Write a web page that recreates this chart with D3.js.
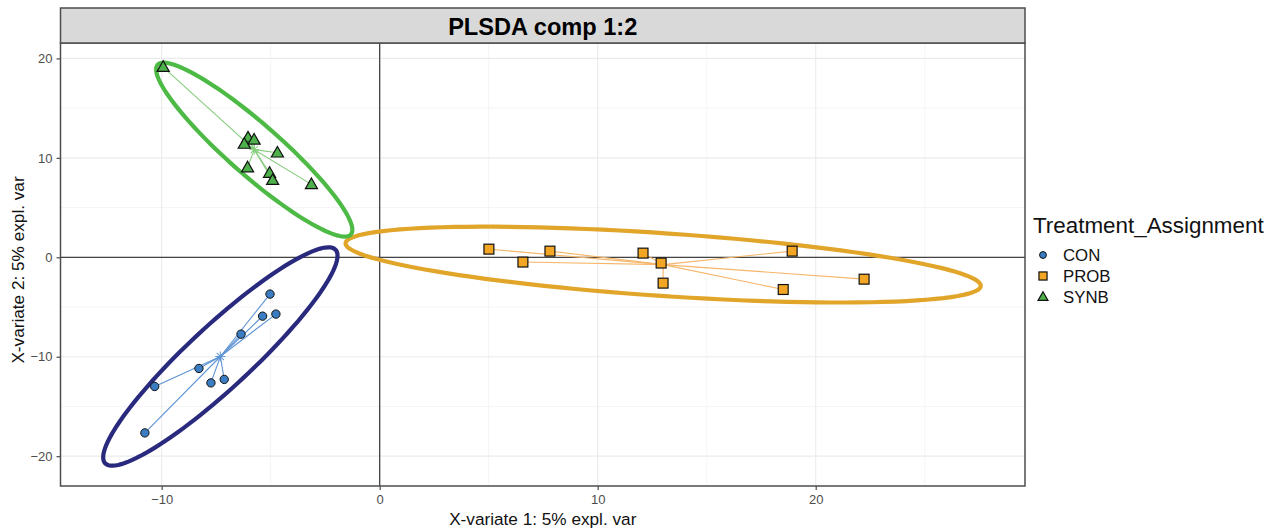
<!DOCTYPE html>
<html>
<head>
<meta charset="utf-8">
<script src="https://cdn.jsdelivr.net/npm/d3@7"></script>
<style>
  body { margin: 0; background: #fff; }
  text { font-family: "Liberation Sans", Arial, sans-serif; }
</style>
</head>
<body>
<script>
// groups and sample scores (comp 1, comp 2)
const groups = ["CON", "PROB", "SYNB"];
const conX  = [-5.03, -5.37, -4.76, -6.36, -8.29, -10.32, -7.74, -7.13, -10.77];
const conY  = [-3.70, -5.92, -5.71, -7.73, -11.18, -12.99, -12.63, -12.28, -17.66];
const probX = [5.01, 6.57, 7.81, 12.08, 12.91, 13.00, 18.51, 18.92, 22.22];
const probY = [0.82, -0.48, 0.62, 0.42, -0.58, -2.60, -3.24, 0.62, -2.20];
const synbX = [-9.93, -6.04, -5.76, -6.21, -4.69, -6.06, -5.05, -4.91, -3.13];
const synbY = [19.12, 12.02, 11.81, 11.39, 10.51, 9.02, 8.47, 7.75, 7.33];
const xTicks = [-10, 0, 10, 20];
const yTicks = [-20, -10, 0, 10, 20];
const xMinor = [-5, 5, 15, 25];
const yMinor = [-15, -5, 5, 15];

const width = 1278, height = 531;
const pLeft = 60.5, pRight = 1025, pTop = 43, pBottom = 486;

const x = d3.scaleLinear().domain([-14.64, 29.6]).range([pLeft, pRight]);
const y = d3.scaleLinear().domain([-23.0, 21.55]).range([pBottom, pTop]);

// per group style
const style = {
  CON:  {fill: "#3A7DC2", ell: "#29297E", line: "#5E93D3", shape: "circle"},
  PROB: {fill: "#F2A623", ell: "#E1A52A", line: "#F6B66A", shape: "square"},
  SYNB: {fill: "#4DB04A", ell: "#4DBA45", line: "#86CC7D", shape: "triangle"}
};

const series = [
  {g: "CON",  xs: conX,  ys: conY},
  {g: "PROB", xs: probX, ys: probY},
  {g: "SYNB", xs: synbX, ys: synbY}
];

const svg = d3.select("body").append("svg")
  .attr("width", width)
  .attr("height", height);

svg.append("rect").attr("width", width).attr("height", height).attr("fill", "#fff");

// grid
svg.append("g").selectAll("line").data(xMinor).join("line")
  .attr("x1", d => x(d)).attr("x2", d => x(d)).attr("y1", pTop).attr("y2", pBottom)
  .attr("stroke", "#F2F2F2").attr("stroke-width", 0.8);
svg.append("g").selectAll("line").data(yMinor).join("line")
  .attr("y1", d => y(d)).attr("y2", d => y(d)).attr("x1", pLeft).attr("x2", pRight)
  .attr("stroke", "#F2F2F2").attr("stroke-width", 0.8);
svg.append("g").selectAll("line").data(xTicks).join("line")
  .attr("x1", d => x(d)).attr("x2", d => x(d)).attr("y1", pTop).attr("y2", pBottom)
  .attr("stroke", "#EBEBEB").attr("stroke-width", 1.1);
svg.append("g").selectAll("line").data(yTicks).join("line")
  .attr("y1", d => y(d)).attr("y2", d => y(d)).attr("x1", pLeft).attr("x2", pRight)
  .attr("stroke", "#EBEBEB").attr("stroke-width", 1.1);

// zero lines
svg.append("line").attr("x1", x(0)).attr("x2", x(0)).attr("y1", pTop).attr("y2", pBottom)
  .attr("stroke", "#444").attr("stroke-width", 1.3);
svg.append("line").attr("y1", y(0)).attr("y2", y(0)).attr("x1", pLeft).attr("x2", pRight)
  .attr("stroke", "#444").attr("stroke-width", 1.3);

// 95% confidence ellipse from the group scores
const tq = Math.sqrt(5.991465);
function ellipsePts(xs, ys) {
  const n = xs.length;
  const mx = d3.mean(xs), my = d3.mean(ys);
  let sxx = 0, syy = 0, sxy = 0;
  for (let i = 0; i < n; i++) {
    sxx += (xs[i] - mx) ** 2;
    syy += (ys[i] - my) ** 2;
    sxy += (xs[i] - mx) * (ys[i] - my);
  }
  sxx /= n - 1; syy /= n - 1; sxy /= n - 1;
  const sx = Math.sqrt(sxx), sy = Math.sqrt(syy);
  const r = sxy / (sx * sy);
  const dd = Math.acos(r);
  const pts = [];
  for (let k = 0; k <= 120; k++) {
    const a = -Math.PI + 2 * Math.PI * k / 120;
    pts.push([mx + tq * sx * Math.cos(a + dd / 2), my + tq * sy * Math.cos(a - dd / 2)]);
  }
  return pts;
}

const lineGen = d3.line().x(d => x(d[0])).y(d => y(d[1])).curve(d3.curveLinearClosed);

// star lines to centroid
for (const s of series) {
  const st = style[s.g];
  const cx = d3.mean(s.xs), cy = d3.mean(s.ys);
  svg.append("g").selectAll("line").data(s.xs).join("line")
    .attr("x1", x(cx)).attr("y1", y(cy))
    .attr("x2", d => x(d)).attr("y2", (d, i) => y(s.ys[i]))
    .attr("stroke", st.line).attr("stroke-width", 1.1);
  // asterisk at centroid
  const ast = svg.append("g").attr("transform", `translate(${x(cx)},${y(cy)})`);
  [0, 45, 90, 135].forEach(a => {
    ast.append("line").attr("x1", -5).attr("x2", 5)
      .attr("transform", `rotate(${a})`)
      .attr("stroke", st.line).attr("stroke-width", 1);
  });
}

// ellipses
for (const s of series) {
  svg.append("path")
    .attr("d", lineGen(ellipsePts(s.xs, s.ys)))
    .attr("fill", "none")
    .attr("stroke", style[s.g].ell)
    .attr("stroke-width", 4.2);
}

// point symbols
function symbol(g, shape, px, py, sz, fill) {
  if (shape === "circle") {
    g.append("circle").attr("cx", px).attr("cy", py).attr("r", sz * 0.38)
      .attr("fill", fill).attr("stroke", "#111").attr("stroke-width", 1);
  } else if (shape === "square") {
    const h = sz * 0.45;
    g.append("rect").attr("x", px - h).attr("y", py - h).attr("width", 2 * h).attr("height", 2 * h)
      .attr("fill", fill).attr("stroke", "#111").attr("stroke-width", 1.2);
  } else {
    const h = sz * 0.55;
    g.append("path")
      .attr("d", `M${px},${py - h * 1.05}L${px + h},${py + h * 0.7}L${px - h},${py + h * 0.7}Z`)
      .attr("fill", fill).attr("stroke", "#111").attr("stroke-width", 1.2);
  }
}

const pts = svg.append("g");
for (const s of series) {
  s.xs.forEach((v, i) => symbol(pts, style[s.g].shape, x(v), y(s.ys[i]), 11, style[s.g].fill));
}

// panel border
svg.append("rect").attr("x", pLeft).attr("y", pTop).attr("width", pRight - pLeft).attr("height", pBottom - pTop)
  .attr("fill", "none").attr("stroke", "#4D4D4D").attr("stroke-width", 1.5);

// strip
svg.append("rect").attr("x", pLeft).attr("y", 8).attr("width", pRight - pLeft).attr("height", pTop - 8)
  .attr("fill", "#D9D9D9").attr("stroke", "#4D4D4D").attr("stroke-width", 1.5);
svg.append("text").text("PLSDA comp 1:2")
  .attr("x", (pLeft + pRight) / 2).attr("y", 34.5)
  .attr("text-anchor", "middle").attr("font-size", 23.6).attr("font-weight", "bold").attr("fill", "#000");

// axes
const xAxis = svg.append("g").attr("transform", `translate(0,${pBottom})`)
  .call(d3.axisBottom(x).tickValues(xTicks).tickSize(4).tickPadding(5).tickFormat(d3.format("d")));
const yAxis = svg.append("g").attr("transform", `translate(${pLeft},0)`)
  .call(d3.axisLeft(y).tickValues(yTicks).tickSize(4).tickPadding(4).tickFormat(d3.format("d")));
[xAxis, yAxis].forEach(a => {
  a.select(".domain").remove();
  a.selectAll(".tick line").attr("stroke", "#4D4D4D").attr("stroke-width", 1.2);
  a.selectAll(".tick text").attr("fill", "#4D4D4D").attr("font-size", 13)
    .attr("font-family", "Liberation Sans, Arial, sans-serif");
});

svg.append("text").text("X-variate 1: 5% expl. var")
  .attr("x", (pLeft + pRight) / 2).attr("y", 525)
  .attr("text-anchor", "middle").attr("font-size", 17.2).attr("fill", "#111");
svg.append("text").text("X-variate 2: 5% expl. var")
  .attr("transform", `translate(24,270) rotate(-90)`)
  .attr("text-anchor", "middle").attr("font-size", 17.2).attr("fill", "#111");

// legend
const leg = svg.append("g");
leg.append("text").text("Treatment_Assignment")
  .attr("x", 1033).attr("y", 233).attr("font-size", 22.4).attr("fill", "#111");
groups.forEach((g, i) => {
  const yy = 255 + i * 21;
  symbol(leg, style[g].shape, 1043, yy, 9, style[g].fill);
  leg.append("text").text(g).attr("x", 1063).attr("y", yy + 6)
    .attr("font-size", 16.8).attr("fill", "#111");
});
</script>
</body>
</html>
